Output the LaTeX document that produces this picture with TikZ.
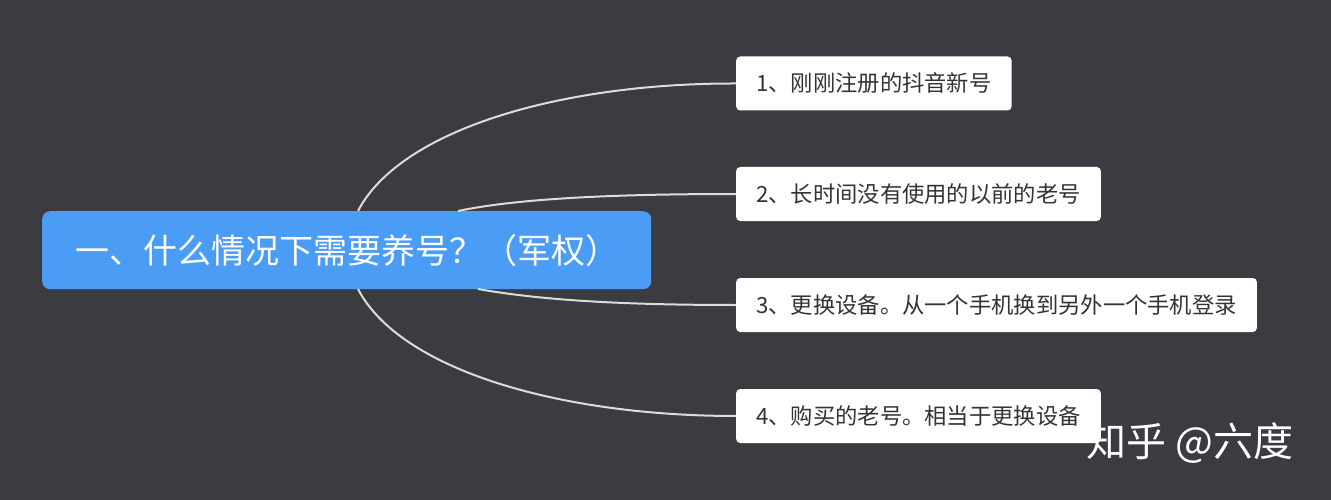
\documentclass[tikz,border=0pt]{standalone}
\usepackage{fontspec}
\newfontfamily\cjk{Noto Sans CJK SC}
\definecolor{bg}{HTML}{3A3C41}
\definecolor{rootc}{HTML}{4A9CF5}
\definecolor{txt}{HTML}{333333}
\definecolor{linec}{HTML}{DCDCDC}
\begin{document}
\begin{tikzpicture}[x=1pt,y=-1pt,
  leaf/.style={fill=white,rounded corners=4pt,anchor=west,minimum height=54pt,inner xsep=20pt,text=txt,font=\cjk\fontsize{22.3}{26}\selectfont},
  conn/.style={draw=linec,line width=2pt}]
\fill[bg] (0,0) rectangle (1331,500);
\useasboundingbox (0,0) rectangle (1331,500);
\node[fill=rootc,rounded corners=8pt,minimum width=609pt,minimum height=78pt,text=white,anchor=north west,font=\cjk\fontsize{34}{40}\selectfont,align=left,text width=543pt,inner xsep=33pt] (root) at (42,211) {一、什么情况下需要养号？（军权）};
\node[leaf] (c1) at (736,83.5) {1、刚刚注册的抖音新号};
\node[leaf] (c2) at (736,194) {2、长时间没有使用的以前的老号};
\node[leaf] (c3) at (736,305) {3、更换设备。从一个手机换到另外一个手机登录};
\node[leaf] (c4) at (736,416) {4、购买的老号。相当于更换设备};
\coordinate (s1) at (358,211);
\coordinate (s2) at (458,211);
\coordinate (s3) at (478,289);
\coordinate (s4) at (358,289);
\draw[conn] (s1) .. controls (400,130) and (560,83) .. (c1.west);
\draw[conn] (s2) .. controls (520,198) and (620,194) .. (c2.west);
\draw[conn] (s3) .. controls (540,300) and (620,305) .. (c3.west);
\draw[conn] (s4) .. controls (400,370) and (560,416) .. (c4.west);
\node[text=white,anchor=west,font=\cjk\fontsize{40}{46}\selectfont] (wm) at (1083,443) {知乎 @六度};
\end{tikzpicture}
\end{document}
